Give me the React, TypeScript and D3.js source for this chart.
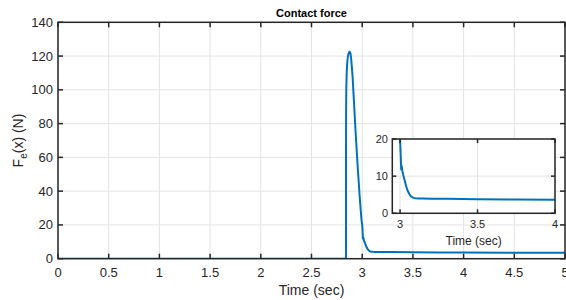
import React from "react";
import * as d3 from "d3";

// contact force trace (time in s, force in N)
const time = [
  0, 2.84, 2.8402, 2.8405, 2.841, 2.843, 2.846, 2.85, 2.856, 2.863, 2.87, 2.877, 2.884,
  2.891, 2.898, 2.905, 2.915, 2.925, 2.935, 2.945, 2.955, 2.965, 2.975, 2.985, 2.993,
  3.0, 3.004, 3.007, 3.008, 3.0095, 3.011, 3.014, 3.02, 3.03, 3.04, 3.05, 3.06, 3.07,
  3.08, 3.09, 3.1, 3.12, 3.15, 3.2, 3.3, 3.5, 3.75, 4.0, 4.5, 5.0,
];
const force = [
  0, 0, 30, 60, 85, 100, 108, 114, 118.5, 121, 122.3, 122.5, 121.8,
  118.5, 113.5, 108, 97, 86, 75, 65, 55, 46, 37, 29, 23,
  20, 16, 12.2, 11.6, 12.9, 12.6, 11.6, 10.4, 8.8, 7.2, 6, 5.2, 4.6,
  4.3, 4.15, 4.05, 4.0, 3.98, 3.95, 3.9, 3.8, 3.72, 3.65, 3.55, 3.5,
];

const xTicks = [0, 0.5, 1, 1.5, 2, 2.5, 3, 3.5, 4, 4.5, 5];
const yTicks = [0, 20, 40, 60, 80, 100, 120, 140];
const insetXTicks = [3, 3.5, 4];
const insetYTicks = [0, 10, 20];

const W = 566;
const H = 300;
const font = "'Liberation Sans', Arial, sans-serif";
const blue = "#0072BD";
const axisCol = "#262626";
const gridCol = "#e3e3e3";

export default function App() {
  const pts = time.map((t, i) => [t, force[i]] as [number, number]);

  // main axes
  const x = d3.scaleLinear().domain([0, 5]).range([58, 565]);
  const y = d3.scaleLinear().domain([0, 140]).range([258.7, 22.3]);
  const line = d3.line<[number, number]>().x(d => x(d[0])).y(d => y(d[1]));

  // inset axes
  const ix = d3.scaleLinear().domain([2.95, 4]).range([392.3, 555]);
  const iy = d3.scaleLinear().domain([0, 20]).range([213.3, 139]);
  const iline = d3.line<[number, number]>().x(d => ix(d[0])).y(d => iy(d[1]));

  const [x0, x1] = x.range();
  const [y0, y1] = y.range();
  const [ix0, ix1] = ix.range();
  const [iy0, iy1] = iy.range();

  return (
    <div style={{ position: "absolute", left: 0, top: 0 }}>
      <svg width={W} height={H} style={{ display: "block", background: "#fff" }} fontFamily={font}>
        <defs>
          <clipPath id="mainClip">
            <rect x={x0} y={y1} width={x1 - x0} height={y0 - y1} />
          </clipPath>
          <clipPath id="insetClip">
            <rect x={ix0} y={iy1} width={ix1 - ix0} height={iy0 - iy1} />
          </clipPath>
        </defs>

        {/* grid */}
        {xTicks.map(t => (
          <line key={"gx" + t} x1={x(t)} x2={x(t)} y1={y0} y2={y1} stroke={gridCol} strokeWidth={1} />
        ))}
        {yTicks.map(t => (
          <line key={"gy" + t} x1={x0} x2={x1} y1={y(t)} y2={y(t)} stroke={gridCol} strokeWidth={1} />
        ))}

        <path d={line(pts) || ""} fill="none" stroke={blue} strokeWidth={2} clipPath="url(#mainClip)" />

        {/* ticks */}
        {xTicks.map(t => (
          <g key={"tx" + t}>
            <line x1={x(t)} x2={x(t)} y1={y0} y2={y0 - 5} stroke={axisCol} strokeWidth={1.5} />
            <line x1={x(t)} x2={x(t)} y1={y1} y2={y1 + 5} stroke={axisCol} strokeWidth={1.5} />
            <text x={x(t)} y={277} textAnchor="middle" fontSize={13} fill={axisCol}>{t}</text>
          </g>
        ))}
        {yTicks.map(t => (
          <g key={"ty" + t}>
            <line x1={x0} x2={x0 + 5} y1={y(t)} y2={y(t)} stroke={axisCol} strokeWidth={1.5} />
            <line x1={x1} x2={x1 - 5} y1={y(t)} y2={y(t)} stroke={axisCol} strokeWidth={1.5} />
            <text x={53} y={y(t)} dy="0.35em" textAnchor="end" fontSize={13} fill={axisCol}>{t}</text>
          </g>
        ))}
        <rect x={x0} y={y1} width={x1 - x0} height={y0 - y1} fill="none" stroke={axisCol} strokeWidth={1.5} />

        <text x={(x0 + x1) / 2} y={17} textAnchor="middle" fontSize={11} fontWeight="bold" fill="#000">Contact force</text>
        <text x={(x0 + x1) / 2} y={295} textAnchor="middle" fontSize={14} fill={axisCol}>Time (sec)</text>
        <text transform={`translate(23,${(y0 + y1) / 2}) rotate(-90)`} textAnchor="middle" fontSize={14} fill={axisCol}>
          F<tspan fontSize={10} dy="4">e</tspan><tspan dy="-4">(x) (N)</tspan>
        </text>

        {/* inset */}
        <rect x={ix0} y={iy1} width={ix1 - ix0} height={iy0 - iy1} fill="#fff" />
        {insetXTicks.map(t => (
          <line key={"igx" + t} x1={ix(t)} x2={ix(t)} y1={iy0} y2={iy1} stroke={gridCol} strokeWidth={1} />
        ))}
        {insetYTicks.map(t => (
          <line key={"igy" + t} x1={ix0} x2={ix1} y1={iy(t)} y2={iy(t)} stroke={gridCol} strokeWidth={1} />
        ))}
        <path d={iline(pts) || ""} fill="none" stroke={blue} strokeWidth={2} clipPath="url(#insetClip)" />
        {insetXTicks.map(t => (
          <g key={"itx" + t}>
            <line x1={ix(t)} x2={ix(t)} y1={iy0} y2={iy0 - 4} stroke={axisCol} strokeWidth={1.5} />
            <line x1={ix(t)} x2={ix(t)} y1={iy1} y2={iy1 + 4} stroke={axisCol} strokeWidth={1.5} />
            <text x={ix(t)} y={228} textAnchor="middle" fontSize={11} fill={axisCol}>{t}</text>
          </g>
        ))}
        {insetYTicks.map(t => (
          <g key={"ity" + t}>
            <line x1={ix0} x2={ix0 + 4} y1={iy(t)} y2={iy(t)} stroke={axisCol} strokeWidth={1.5} />
            <line x1={ix1} x2={ix1 - 4} y1={iy(t)} y2={iy(t)} stroke={axisCol} strokeWidth={1.5} />
            <text x={388} y={iy(t)} dy="0.35em" textAnchor="end" fontSize={11} fill={axisCol}>{t}</text>
          </g>
        ))}
        <rect x={ix0} y={iy1} width={ix1 - ix0} height={iy0 - iy1} fill="none" stroke={axisCol} strokeWidth={1.5} />
        <text x={(ix0 + ix1) / 2} y={245} textAnchor="middle" fontSize={12} fill={axisCol}>Time (sec)</text>
      </svg>
    </div>
  );
}
